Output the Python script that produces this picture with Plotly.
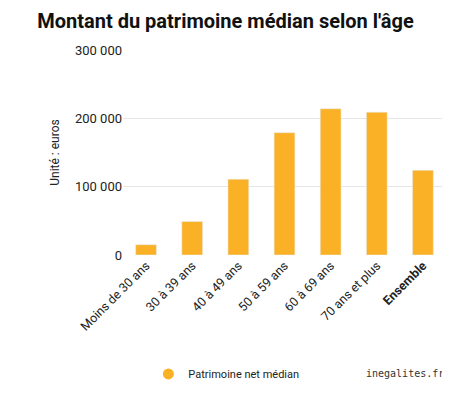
import plotly.graph_objects as go

categories = ["Moins de 30 ans", "30 à 39 ans", "40 à 49 ans", "50 à 59 ans",
              "60 à 69 ans", "70 ans et plus", "<b>Ensemble</b>"]
values = [15000, 49000, 111000, 179000, 214000, 209000, 124000]
tick_vals = [0, 100000, 200000, 300000]
tick_text = ["0", "100 000", "200 000", "300 000"]

fig = go.Figure()
fig.add_trace(go.Bar(x=categories, y=values, name="Patrimoine net médian",
                     marker_color="#FBB125", width=0.45, showlegend=False))
# legend entry with circle marker
fig.add_trace(go.Scatter(x=[None], y=[None], mode="markers", name="Patrimoine net médian",
                         marker=dict(color="#FBB125", size=11, symbol="circle")))

fig.update_layout(
    width=450, height=400,
    margin=dict(l=115, r=12, t=42, b=153),
    paper_bgcolor="white", plot_bgcolor="white",
    font=dict(family="Roboto, sans-serif", size=12, color="#222"),
    title=dict(text="<b>Montant du patrimoine médian selon l'âge</b>", x=0.065, y=0.985,
               xanchor="left", yanchor="top", font=dict(size=20, color="#111")),
    yaxis=dict(range=[0, 300000], tickvals=tick_vals, ticktext=tick_text,
               gridcolor="#e6e6e6", zeroline=False, tickfont=dict(size=13),
               title=dict(text="Unité : euros", font=dict(size=12), standoff=12)),
    xaxis=dict(tickangle=-45, showline=False, tickfont=dict(size=12.5)),
    legend=dict(orientation="h", x=0.32, xanchor="center", y=-0.58, yanchor="middle",
                font=dict(size=11)),
    annotations=[dict(text="inegalites.fr", xref="paper", yref="paper", x=1.0, y=-0.58,
                      xanchor="right", yanchor="middle", showarrow=False,
                      font=dict(family="DejaVu Sans Mono", size=10, color="#333"))],
)
fig.write_html("out.html")
